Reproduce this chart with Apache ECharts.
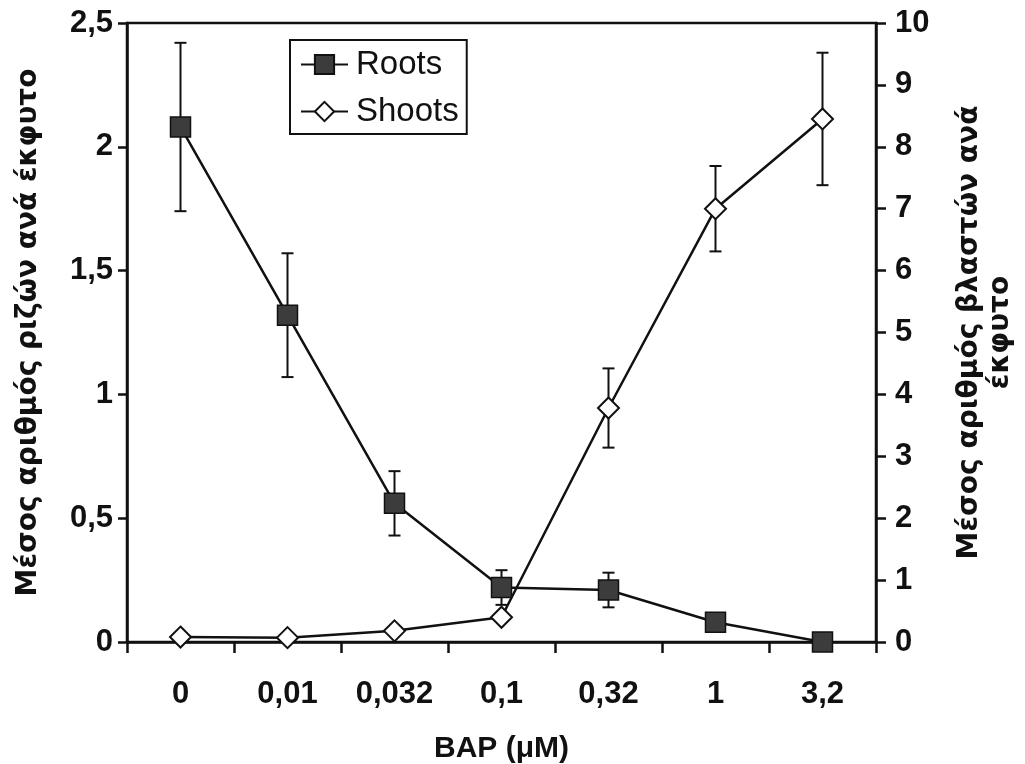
<!DOCTYPE html>
<html>
<head>
<meta charset="utf-8">
<script src="https://cdn.jsdelivr.net/npm/echarts@6/dist/echarts.min.js"></script>
<style>
  html, body { margin: 0; padding: 0; background: #fff; }
  #chart { width: 1025px; height: 764px; }
</style>
</head>
<body>
<div id="chart"></div>
<script>
// BAP concentrations (µM), shown with a decimal comma
const categories = ['0', '0,01', '0,032', '0,1', '0,32', '1', '3,2']

// mean roots per explant (left axis) and standard errors
const rootsMean = [2.08, 1.32, 0.56, 0.22, 0.21, 0.08, 0.0]
const rootsErr = [0.34, 0.25, 0.13, 0.07, 0.07, 0, 0]

// mean shoots per explant (right axis) and standard errors
const shootsMean = [0.08, 0.07, 0.18, 0.40, 3.78, 7.0, 8.45]
const shootsErr = [0, 0, 0, 0, 0.64, 0.69, 1.07]

const leftTitle = 'Μέσος αριθμός ριζών ανά έκφυτο'
const rightTitle = 'Μέσος αριθμός βλαστών ανά\nέκφυτο'
const xTitle = 'BAP (μM)'

const ink = '#111'
const tickFont = { fontFamily: 'Liberation Sans', fontWeight: 'bold', fontSize: 31, color: ink }

function errorBars(mean, err, yAxisIndex) {
  const rows = []
  mean.forEach((m, i) => {
    if (err[i] > 0) rows.push([i, m - err[i], m + err[i]])
  })
  return {
    type: 'custom',
    yAxisIndex,
    z: 2,
    silent: true,
    encode: { x: 0, y: [1, 2] },
    data: rows,
    renderItem(params, api) {
      const lo = api.coord([api.value(0), api.value(1)])
      const hi = api.coord([api.value(0), api.value(2)])
      const w = 6
      const style = { stroke: ink, lineWidth: 2 }
      return {
        type: 'group',
        children: [
          { type: 'line', shape: { x1: lo[0], y1: lo[1], x2: hi[0], y2: hi[1] }, style },
          { type: 'line', shape: { x1: lo[0] - w, y1: lo[1], x2: lo[0] + w, y2: lo[1] }, style },
          { type: 'line', shape: { x1: hi[0] - w, y1: hi[1], x2: hi[0] + w, y2: hi[1] }, style },
        ],
      }
    },
  }
}

const chart = echarts.init(document.getElementById('chart'))

chart.setOption({
  backgroundColor: '#fff',
  animation: false,
  grid: {
    left: 127,
    right: 149,
    top: 23,
    bottom: 122,
    outerBoundsMode: 'none',
    show: true,
    borderColor: ink,
    borderWidth: 2.5,
    backgroundColor: 'transparent',
  },
  legend: {
    data: ['Roots', 'Shoots'],
    orient: 'vertical',
    left: 290,
    top: 40,
    padding: [8, 8, 6, 10],
    itemGap: 14,
    itemWidth: 47,
    itemHeight: 24,
    borderColor: ink,
    borderWidth: 2,
    textStyle: { fontFamily: 'Liberation Sans', fontSize: 33, color: ink, padding: [0, 0, 0, 3] },
  },
  xAxis: {
    type: 'category',
    data: categories,
    boundaryGap: true,
    name: xTitle,
    nameLocation: 'middle',
    nameGap: 92,
    nameTextStyle: { fontFamily: 'Liberation Sans', fontWeight: 'bold', fontSize: 30, color: ink },
    axisLine: { lineStyle: { color: ink, width: 2.5 } },
    axisTick: { show: true, length: 11, lineStyle: { color: ink, width: 2.5 } },
    axisLabel: Object.assign({ margin: 37 }, tickFont),
    splitLine: { show: false },
  },
  yAxis: [
    {
      type: 'value',
      min: 0,
      max: 2.5,
      interval: 0.5,
      name: leftTitle,
      nameLocation: 'middle',
      nameGap: 84,
      nameTextStyle: { fontFamily: 'DejaVu Sans', fontWeight: 'bold', fontSize: 28, color: ink },
      axisLine: { show: true, lineStyle: { color: ink, width: 2.5 } },
      axisTick: { show: true, length: 9, lineStyle: { color: ink, width: 2.5 } },
      axisLabel: Object.assign({ margin: 14, formatter: v => String(v).replace('.', ',') }, tickFont),
      splitLine: { show: false },
    },
    {
      type: 'value',
      min: 0,
      max: 10,
      interval: 1,
      position: 'right',
      name: rightTitle,
      nameLocation: 'middle',
      nameGap: 78,
      nameTextStyle: { fontFamily: 'DejaVu Sans', fontWeight: 'bold', fontSize: 28, color: ink, lineHeight: 31 },
      axisLine: { show: true, lineStyle: { color: ink, width: 2.5 } },
      axisTick: { show: true, length: 10, lineStyle: { color: ink, width: 2.5 } },
      axisLabel: Object.assign({ margin: 19 }, tickFont),
      splitLine: { show: false },
    },
  ],
  series: [
    errorBars(rootsMean, rootsErr, 0),
    errorBars(shootsMean, shootsErr, 1),
    {
      name: 'Roots',
      type: 'line',
      yAxisIndex: 0,
      data: rootsMean,
      z: 3,
      symbol: 'rect',
      symbolSize: 20,
      lineStyle: { color: ink, width: 2.5 },
      itemStyle: { color: '#3c3c3c', borderColor: ink, borderWidth: 1.5 },
    },
    {
      name: 'Shoots',
      type: 'line',
      yAxisIndex: 1,
      data: shootsMean,
      z: 4,
      symbol: 'diamond',
      symbolSize: 21,
      lineStyle: { color: ink, width: 2.5 },
      itemStyle: { color: '#fff', borderColor: ink, borderWidth: 2 },
    },
  ],
})
</script>
</body>
</html>
